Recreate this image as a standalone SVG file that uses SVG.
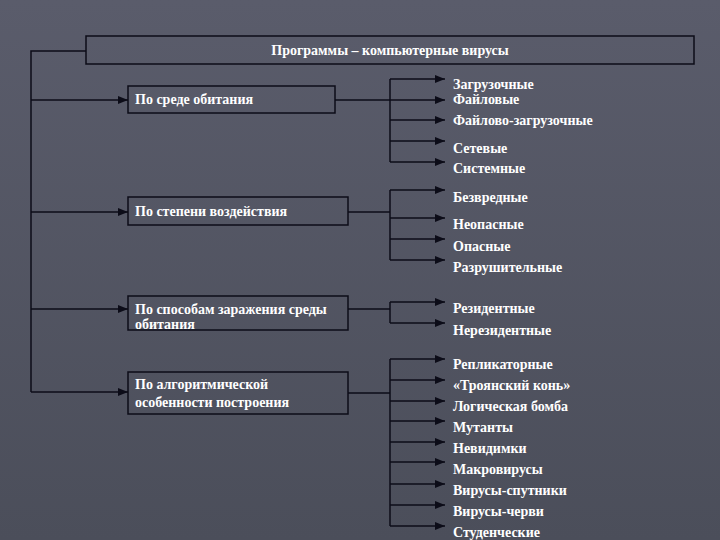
<svg xmlns="http://www.w3.org/2000/svg" width="720" height="540" viewBox="0 0 720 540">
<defs>
<linearGradient id="bg" x1="0" y1="0" x2="0" y2="1">
<stop offset="0" stop-color="#5a5c6b"/>
<stop offset="1" stop-color="#4b4e5a"/>
</linearGradient>
<marker id="ah" viewBox="0 0 10 8" refX="10" refY="4" markerWidth="10" markerHeight="8" markerUnits="userSpaceOnUse" orient="auto">
<path d="M0,0 L10,4 L0,8 Z" fill="#0c0c18"/>
</marker>
<style>
.box{fill:none;stroke:#0c0c18;stroke-width:1.5}
.ln{fill:none;stroke:#0c0c18;stroke-width:1.5}
.ar{fill:none;stroke:#0c0c18;stroke-width:1.5;marker-end:url(#ah)}
text{font-family:"Liberation Serif","DejaVu Serif",serif;font-weight:bold;font-size:14px;fill:#ffffff}
</style>
</defs>
<rect width="720" height="540" fill="url(#bg)"/>

<g id="root">
<rect class="box" x="86" y="36" width="608" height="28"/>
<text x="390" y="55" text-anchor="middle">Программы – компьютерные вирусы</text>
</g>
<g id="n1">
<rect class="box" x="128" y="86" width="207" height="27"/>
<text x="135" y="104">По среде обитания</text>
</g>
<g id="n2">
<rect class="box" x="128" y="197" width="220" height="28"/>
<text x="135" y="216">По степени воздействия</text>
</g>
<g id="n3">
<rect class="box" x="128" y="296" width="220" height="34"/>
<text x="135" y="314">По способам заражения среды</text>
<text x="135" y="329">обитания</text>
</g>
<g id="n4">
<rect class="box" x="128" y="372" width="220" height="42"/>
<text x="135" y="389">По алгоритмической</text>
<text x="135" y="407">особенности построения</text>
</g>

<g id="leaves">
<text x="453" y="89">Загрузочные</text>
<text x="453" y="104">Файловые</text>
<text x="453" y="125">Файлово-загрузочные</text>
<text x="453" y="153">Сетевые</text>
<text x="453" y="173">Системные</text>
<text x="453" y="202">Безвредные</text>
<text x="453" y="229">Неопасные</text>
<text x="453" y="251">Опасные</text>
<text x="453" y="272">Разрушительные</text>
<text x="453" y="313">Резидентные</text>
<text x="453" y="335">Нерезидентные</text>
<text x="453" y="369">Репликаторные</text>
<text x="453" y="390">«Троянский конь»</text>
<text x="453" y="411">Логическая бомба</text>
<text x="453" y="432">Мутанты</text>
<text x="453" y="453">Невидимки</text>
<text x="453" y="474">Макровирусы</text>
<text x="453" y="495">Вирусы-спутники</text>
<text x="453" y="516">Вирусы-черви</text>
<text x="453" y="537">Студенческие</text>
</g>

<g id="connectors">
<path class="ln" d="M86,51 H31 V392"/>
<path class="ar" d="M31,100 H128"/>
<path class="ar" d="M31,212 H128"/>
<path class="ar" d="M31,309 H128"/>
<path class="ar" d="M31,392 H128"/>

<path class="ln" d="M335,100 H390 M390,79 V162"/>
<path class="ar" d="M390,79 H445"/>
<path class="ar" d="M390,100 H445"/>
<path class="ar" d="M390,120 H445"/>
<path class="ar" d="M390,141 H445"/>
<path class="ar" d="M390,162 H445"/>

<path class="ln" d="M348,212 H390 M390,190 V260"/>
<path class="ar" d="M390,190 H445"/>
<path class="ar" d="M390,218 H445"/>
<path class="ar" d="M390,239 H445"/>
<path class="ar" d="M390,260 H445"/>

<path class="ln" d="M348,309 H390 M390,302 V323"/>
<path class="ar" d="M390,302 H445"/>
<path class="ar" d="M390,323 H445"/>

<path class="ln" d="M348,393 H390 M390,359 V526"/>
<path class="ar" d="M390,359 H445"/>
<path class="ar" d="M390,380 H445"/>
<path class="ar" d="M390,401 H445"/>
<path class="ar" d="M390,421 H445"/>
<path class="ar" d="M390,442 H445"/>
<path class="ar" d="M390,462 H445"/>
<path class="ar" d="M390,484 H445"/>
<path class="ar" d="M390,505 H445"/>
<path class="ar" d="M390,526 H445"/>
</g>
</svg>
